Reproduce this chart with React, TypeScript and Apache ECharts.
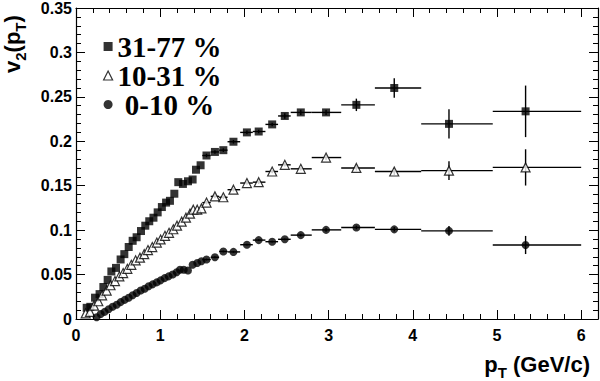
import React, { useEffect, useRef } from 'react';
import * as echarts from 'echarts';

const NAMES = ['31-77 %', '10-31 %', '0-10 %'];

// dense low-pT points (error bars hidden by markers)
const sqPt = [0.127, 0.17, 0.226, 0.28, 0.325, 0.376, 0.42, 0.475, 0.53, 0.574, 0.626, 0.673, 0.72, 0.772, 0.823, 0.87, 0.92, 0.97, 1.02, 1.07, 1.116, 1.168, 1.215, 1.27, 1.33, 1.385, 1.425, 1.48];
const sqV2 = [0.0126, 0.0137, 0.024, 0.028, 0.036, 0.044, 0.0535, 0.0575, 0.067, 0.073, 0.081, 0.088, 0.092, 0.099, 0.105, 0.11, 0.114, 0.12, 0.126, 0.131, 0.133, 0.141, 0.154, 0.152, 0.155, 0.157, 0.168, 0.173];

const triPt = [0.115, 0.166, 0.214, 0.265, 0.31, 0.364, 0.41, 0.463, 0.515, 0.56, 0.61, 0.657, 0.708, 0.76, 0.81, 0.855, 0.906, 0.96, 1.005, 1.057, 1.105, 1.156, 1.2, 1.255, 1.306, 1.354, 1.393, 1.44, 1.49];
const triV2 = [0.0063, 0.008, 0.015, 0.02, 0.0267, 0.032, 0.038, 0.0427, 0.048, 0.0517, 0.0565, 0.061, 0.066, 0.069, 0.073, 0.0776, 0.081, 0.086, 0.0895, 0.0936, 0.097, 0.101, 0.105, 0.1096, 0.114, 0.1185, 0.123, 0.123, 0.1245];

const circPt = [0.245, 0.293, 0.34, 0.388, 0.435, 0.483, 0.53, 0.578, 0.626, 0.673, 0.72, 0.768, 0.816, 0.863, 0.91, 0.958, 1.005, 1.053, 1.1, 1.148, 1.196, 1.235, 1.28, 1.33, 1.385, 1.44, 1.49];
const circV2 = [0.002, 0.0056, 0.008, 0.011, 0.0137, 0.016, 0.019, 0.0215, 0.024, 0.0268, 0.0293, 0.032, 0.034, 0.0368, 0.039, 0.0412, 0.0435, 0.046, 0.048, 0.05, 0.0527, 0.0555, 0.0555, 0.0545, 0.061, 0.063, 0.065];

// wider high-pT bins (shared by the three centralities)
const binPt = [1.55, 1.65, 1.75, 1.87, 2.03, 2.17, 2.33, 2.48, 2.67, 2.97, 3.33, 3.78, 4.43, 5.34];
const binLo = [1.5, 1.6, 1.7, 1.8, 1.95, 2.1, 2.25, 2.4, 2.55, 2.8, 3.15, 3.55, 4.1, 4.95];
const binHi = [1.6, 1.7, 1.8, 1.95, 2.1, 2.25, 2.4, 2.55, 2.8, 3.15, 3.55, 4.1, 4.95, 6.0];
const sqBinV2 = [0.184, 0.188, 0.19, 0.1995, 0.21, 0.211, 0.219, 0.2285, 0.2325, 0.2325, 0.241, 0.26, 0.2196, 0.2337];
const sqBinErr = [0.002, 0.002, 0.002, 0.002, 0.002, 0.002, 0.002, 0.003, 0.003, 0.003, 0.007, 0.011, 0.0164, 0.029];
const triBinV2 = [0.131, 0.138, 0.137, 0.1455, 0.153, 0.154, 0.166, 0.1735, 0.169, 0.1817, 0.17, 0.166, 0.167, 0.1706];
const triBinErr = [0.002, 0.002, 0.002, 0.002, 0.002, 0.002, 0.002, 0.002, 0.002, 0.003, 0.003, 0.004, 0.0105, 0.0204];
const circBinV2 = [0.0669, 0.0695, 0.076, 0.0755, 0.0836, 0.0888, 0.087, 0.0897, 0.0944, 0.1003, 0.103, 0.1009, 0.0992, 0.0833];
const circBinErr = [0.001, 0.001, 0.001, 0.001, 0.001, 0.001, 0.001, 0.001, 0.0015, 0.002, 0.002, 0.0025, 0.0056, 0.0102];

const X_TICKS_MAX = 6;
const SANS = "'Liberation Sans', Arial, sans-serif";
const SERIF = "'Liberation Serif', 'Times New Roman', serif";

function measure(text: string, font: string): number {
  const ctx = document.createElement('canvas').getContext('2d');
  if (!ctx) return text.length * 8;
  ctx.font = font;
  return ctx.measureText(text).width;
}

export default function App() {
  const ref = useRef<HTMLDivElement>(null);

  useEffect(() => {
    if (!ref.current) return;
    const chart = echarts.init(ref.current, undefined, { renderer: 'svg' });

    const pts = (xs: number[], ys: number[], bys: number[]) =>
      xs.map((x, i) => [x, ys[i]]).concat(binPt.map((x, i) => [x, bys[i]]));
    const errs = (bys: number[], be: number[]) =>
      binPt.map((x, i) => [x, bys[i], binLo[i], binHi[i], be[i]]);

    const errSeries = (data: number[][]) => ({
      type: 'custom',
      xAxisIndex: 0,
      yAxisIndex: 0,
      z: 1,
      silent: true,
      encode: { x: 0, y: 1 },
      data,
      renderItem: (_p: any, api: any) => {
        const x = api.value(0), y = api.value(1), lo = api.value(2), hi = api.value(3), e = api.value(4);
        const a = api.coord([lo, y]);
        const b = api.coord([hi, y]);
        const c = api.coord([x, y - e]);
        const d = api.coord([x, y + e]);
        const st = { stroke: '#000', lineWidth: 1.4 };
        return {
          type: 'group',
          children: [
            { type: 'line', shape: { x1: a[0], y1: a[1], x2: b[0], y2: b[1] }, style: st },
            { type: 'line', shape: { x1: c[0], y1: c[1], x2: d[0], y2: d[1] }, style: st },
          ],
        };
      },
    });

    const tickLine = { color: '#000', width: 1 };
    const xBase = { type: 'value', min: 0, max: 6.2, gridIndex: 0, splitLine: { show: false } };
    const yBase = { type: 'value', min: 0, max: 0.35, interval: 0.05, gridIndex: 0, splitLine: { show: false } };

    // axis titles
    const tFont = 22, tSub = 15;
    const fMain = `bold ${tFont}px Liberation Sans`;
    const fSub = `bold ${tSub}px Liberation Sans`;
    const pW = measure('p', fMain);
    const TW = measure('T', fSub);
    const restW = measure(' (GeV/c)', fMain);
    const xRight = 590;
    const xStart = xRight - (pW + TW + restW);
    const xBottom = 375;

    const vW = measure('v', fMain);
    const twoW = measure('2', fSub);
    const pp = measure('(p', fMain);

    const txt = (text: string, x: number, y: number, size: number) => ({
      type: 'text',
      x,
      y,
      style: {
        text,
        fill: '#000',
        font: `bold ${size}px ${SANS}`,
        textAlign: 'left',
        textVerticalAlign: 'bottom',
        verticalAlign: 'bottom',
      },
    });

    chart.setOption({
      animation: false,
      backgroundColor: '#fff',
      grid: { left: 76, right: 2, top: 5, bottom: 62, containLabel: false },
      xAxis: [
        {
          ...xBase,
          position: 'bottom',
          interval: 1,
          axisLine: { show: true, onZero: false, lineStyle: { color: '#000', width: 1.2 } },
          axisTick: { show: true, inside: true, length: 9, lineStyle: tickLine },
          axisLabel: {
            show: true,
            margin: 8,
            color: '#000',
            fontFamily: SANS,
            fontWeight: 'bold',
            fontSize: 16,
            showMaxLabel: false,
            formatter: (v: number) => (v <= X_TICKS_MAX + 0.01 ? String(v) : ''),
          },
        },
        {
          ...xBase,
          position: 'bottom',
          interval: 0.2,
          axisLine: { show: false, onZero: false },
          axisTick: { show: true, inside: true, length: 5, lineStyle: tickLine },
          axisLabel: { show: false },
        },
        {
          ...xBase,
          position: 'top',
          interval: 1,
          axisLine: { show: true, onZero: false, lineStyle: { color: '#000', width: 1.2 } },
          axisTick: { show: true, inside: true, length: 9, lineStyle: tickLine },
          axisLabel: { show: false },
        },
        {
          ...xBase,
          position: 'top',
          interval: 0.2,
          axisLine: { show: false, onZero: false },
          axisTick: { show: true, inside: true, length: 5, lineStyle: tickLine },
          axisLabel: { show: false },
        },
      ],
      yAxis: [
        {
          ...yBase,
          position: 'left',
          axisLine: { show: true, onZero: false, lineStyle: { color: '#000', width: 1.2 } },
          axisTick: { show: true, inside: true, length: 9, lineStyle: tickLine },
          minorTick: { show: true, splitNumber: 5, length: 5, lineStyle: tickLine },
          axisLabel: {
            show: true,
            margin: 4,
            color: '#000',
            fontFamily: SANS,
            fontWeight: 'bold',
            fontSize: 16,
          },
        },
        {
          ...yBase,
          position: 'right',
          axisLine: { show: true, onZero: false, lineStyle: { color: '#000', width: 1.2 } },
          axisTick: { show: true, inside: true, length: 9, lineStyle: tickLine },
          minorTick: { show: true, splitNumber: 5, length: 5, lineStyle: tickLine },
          axisLabel: { show: false },
        },
      ],
      legend: {
        orient: 'vertical',
        left: 98,
        top: 27,
        itemWidth: 9,
        itemHeight: 9,
        itemGap: 0,
        selectedMode: false,
        formatter: (name: string) => (name === NAMES[2] ? '\u00a0' + name : name),
        textStyle: {
          fontFamily: SERIF,
          fontWeight: 'bold',
          fontSize: 29,
          lineHeight: 29,
          color: '#000',
          padding: [0, 0, 0, 0],
        },
        data: [
          { name: NAMES[0], icon: 'rect', itemStyle: { color: '#000', borderWidth: 0 } },
          { name: NAMES[1], icon: 'triangle', itemStyle: { color: '#fff', borderColor: '#000', borderWidth: 1.2 } },
          { name: NAMES[2], icon: 'circle', itemStyle: { color: '#000', borderWidth: 0 } },
        ],
      },
      graphic: [
        txt('p', xStart, xBottom, tFont),
        txt('T', xStart + pW, xBottom + 5, tSub),
        txt(' (GeV/c)', xStart + pW + TW, xBottom, tFont),
        {
          type: 'group',
          x: 23,
          y: 73,
          rotation: Math.PI / 2,
          children: [
            txt('v', 0, 0, tFont),
            txt('2', vW, 5, tSub),
            txt('(p', vW + twoW, 0, tFont),
            txt('T', vW + twoW + pp, 5, tSub),
            txt(')', vW + twoW + pp + TW, 0, tFont),
          ],
        },
      ],
      series: [
        errSeries(errs(sqBinV2, sqBinErr)),
        errSeries(errs(triBinV2, triBinErr)),
        errSeries(errs(circBinV2, circBinErr)),
        {
          name: NAMES[0],
          type: 'scatter',
          z: 3,
          symbol: 'rect',
          symbolSize: 8,
          itemStyle: { color: '#000' },
          data: pts(sqPt, sqV2, sqBinV2),
        },
        {
          name: NAMES[1],
          type: 'scatter',
          z: 3,
          symbol: 'triangle',
          symbolSize: 9,
          itemStyle: { color: '#fff', borderColor: '#000', borderWidth: 1.2 },
          data: pts(triPt, triV2, triBinV2),
        },
        {
          name: NAMES[2],
          type: 'scatter',
          z: 3,
          symbol: 'circle',
          symbolSize: 8,
          itemStyle: { color: '#000' },
          data: pts(circPt, circV2, circBinV2),
        },
      ],
    });

    return () => chart.dispose();
  }, []);

  return (
    <div
      ref={ref}
      style={{ position: 'absolute', left: 0, top: 0, width: 600, height: 381, background: '#fff' }}
    />
  );
}
